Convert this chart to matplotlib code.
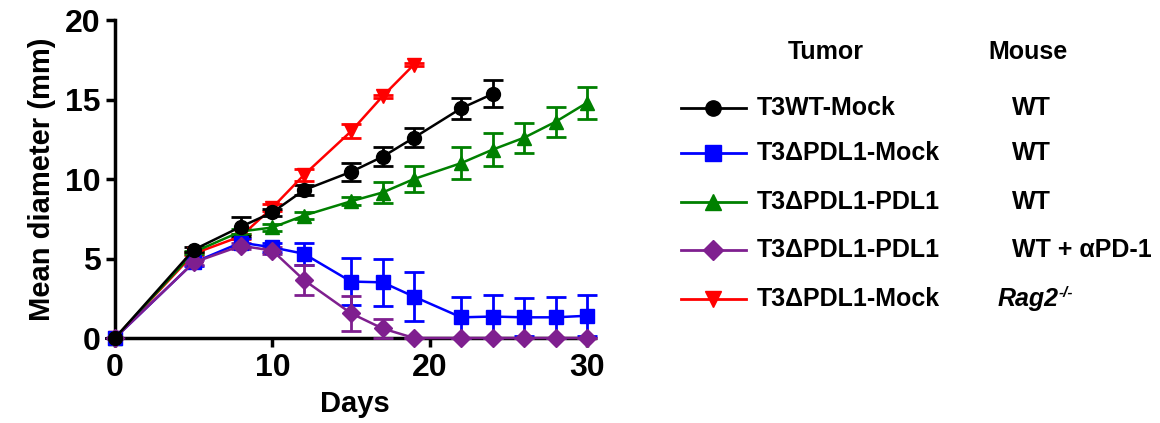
import matplotlib
matplotlib.use("Agg")
import matplotlib.pyplot as plt
from matplotlib.lines import Line2D

plt.rcParams['font.family'] = ['Liberation Sans', 'DejaVu Sans']
plt.rcParams['font.weight'] = 'bold'

# data (mean diameter, mm; err = SEM)
days_wt = [0, 5, 8, 10, 12, 15, 17, 19, 22, 24]
wt_mock = [0, 5.55, 7.0, 7.9, 9.3, 10.45, 11.4, 12.6, 14.45, 15.35]
wt_mock_err = [0, 0.15, 0.6, 0.2, 0.3, 0.55, 0.6, 0.6, 0.65, 0.85]

days_rag = [0, 5, 8, 10, 12, 15, 17, 19]
rag_mock = [0, 5.3, 6.4, 8.2, 10.25, 13.0, 15.2, 17.2]
rag_mock_err = [0, 0.1, 0.15, 0.2, 0.4, 0.45, 0.1, 0.1]

days_long = [0, 5, 8, 10, 12, 15, 17, 19, 22, 24, 26, 28, 30]
pdl1 = [0, 5.4, 6.7, 6.95, 7.7, 8.6, 9.15, 10.0, 11.0, 11.85, 12.6, 13.6, 14.8]
pdl1_err = [0, 0.1, 0.15, 0.2, 0.2, 0.25, 0.65, 0.8, 1.0, 1.05, 0.95, 0.95, 1.0]

dmock = [0, 4.75, 6.0, 5.7, 5.3, 3.55, 3.5, 2.6, 1.3, 1.35, 1.3, 1.3, 1.4]
dmock_err = [0, 0.2, 0.3, 0.3, 0.7, 1.5, 1.5, 1.55, 1.3, 1.35, 1.2, 1.3, 1.3]

pdl1_apd1 = [0, 4.75, 5.8, 5.5, 3.65, 1.55, 0.6, 0, 0, 0, 0, 0, 0]
pdl1_apd1_err = [0, 0.15, 0.2, 0.2, 0.95, 1.1, 0.6, 0, 0, 0, 0, 0, 0]

tumor_labels = ['T3WT-Mock', 'T3\u0394PDL1-Mock', 'T3\u0394PDL1-PDL1',
                'T3\u0394PDL1-PDL1', 'T3\u0394PDL1-Mock']
mouse_labels = ['WT', 'WT', 'WT', 'WT + \u03b1PD-1', 'Rag2']
colors = ['black', '#0000ff', '#008000', '#7f1f8f', '#ff0000']
markers = ['o', 's', '^', 'D', 'v']
msizes = [10, 10, 10, 9, 10]

fig = plt.figure(figsize=(11.6, 4.23), dpi=100)
W, H = 1160, 423
# x: 0 -> 115 px, 30 -> 587 px ; y: 0 -> 338 px, 20 -> 20 px
ax = fig.add_axes([115 / W, 1 - 338 / H, 480 / W, 318 / H])

series = [
    (days_rag, rag_mock, rag_mock_err, 4),
    (days_long, pdl1, pdl1_err, 2),
    (days_long, dmock, dmock_err, 1),
    (days_long, pdl1_apd1, pdl1_apd1_err, 3),
    (days_wt, wt_mock, wt_mock_err, 0),
]
for x, y, e, i in series:
    ax.errorbar(x, y, yerr=e, color=colors[i], marker=markers[i], ms=msizes[i],
                lw=1.8, elinewidth=2, capsize=7, capthick=2, clip_on=False, zorder=3)

ax.set_xlim(0, 30.5)
ax.set_ylim(0, 20)
ax.set_xticks([0, 10, 20, 30])
ax.set_yticks([0, 5, 10, 15, 20])
for s in ['top', 'right']:
    ax.spines[s].set_visible(False)
for s in ['left', 'bottom']:
    ax.spines[s].set_linewidth(2.5)
ax.spines['bottom'].set_zorder(1)
ax.tick_params(width=2.5, length=6.5, labelsize=23, pad=4)
for lab in ax.get_xticklabels() + ax.get_yticklabels():
    lab.set_fontweight('bold')
ax.set_xlabel('Days', fontsize=21, fontweight='bold', labelpad=5)
ax.set_ylabel('Mean diameter (mm)', fontsize=21, fontweight='bold', labelpad=6)

# legend drawn as a table in figure pixel coordinates
lg = fig.add_axes([0, 0, 1, 1], facecolor='none')
lg.set_xlim(0, W)
lg.set_ylim(H, 0)
lg.axis('off')
lg.text(826, 52, 'Tumor', ha='center', va='center', fontsize=18, fontweight='bold')
lg.text(1028, 52, 'Mouse', ha='center', va='center', fontsize=18, fontweight='bold')
rows_y = [108, 153, 202, 250, 299]
for i, yy in enumerate(rows_y):
    lg.add_line(Line2D([681, 746], [yy, yy], color=colors[i], lw=2))
    lg.plot([713], [yy], marker=markers[i], color=colors[i], ms=msizes[i] + 1)
    lg.text(757, yy, tumor_labels[i], ha='left', va='center', fontsize=18,
            fontweight='bold')
    if mouse_labels[i] == 'Rag2':
        t = lg.text(998, yy, 'Rag2', ha='left', va='center', fontsize=18,
                    fontweight='bold', style='italic')
        lg.annotate('-/-', xy=(1, 0.75), xycoords=t, ha='left', va='center',
                    fontsize=11, fontweight='bold', style='italic')
    else:
        lg.text(1012, yy, mouse_labels[i], ha='left', va='center', fontsize=18,
                fontweight='bold')

fig.savefig('out.png', dpi=100)
